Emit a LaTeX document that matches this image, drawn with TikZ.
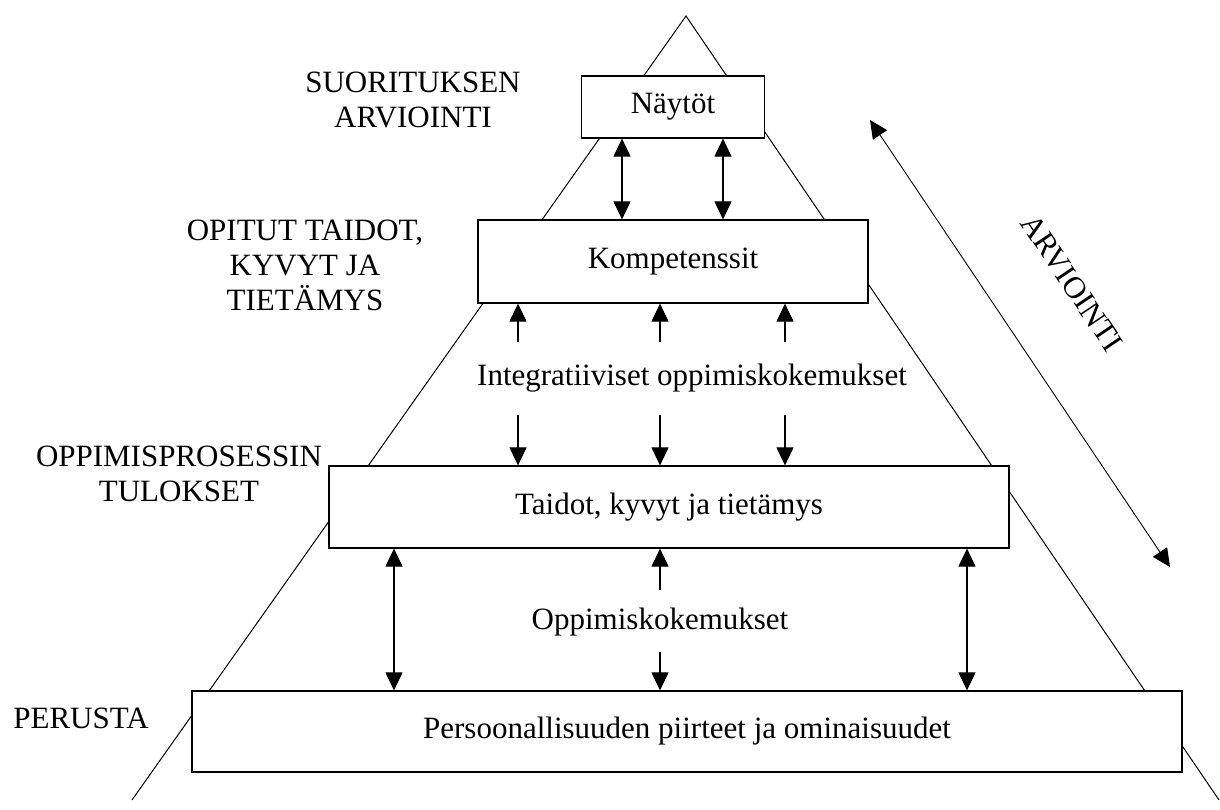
\documentclass[tikz,border=0pt]{standalone}
\usepackage{fontspec}
\setmainfont{Liberation Serif}
\usetikzlibrary{arrows.meta}
\begin{document}
\begin{tikzpicture}[x=1pt,y=-1pt,
  box/.style={draw, fill=white, line width=1.2pt, inner sep=0pt, font=\fontsize{31}{35}\selectfont},
  lbl/.style={align=center, inner sep=0pt, font=\fontsize{31}{35}\selectfont},
  txt/.style={inner sep=0pt, font=\fontsize{31}{35}\selectfont},
  tip/.style={line width=1.1pt, arrows={-Triangle[width=17pt,length=18pt]}},
  dtip/.style={line width=1.1pt, arrows={Triangle[width=17pt,length=18pt]-Triangle[width=17pt,length=18pt]}},
  tri/.style={line width=1pt}]
\useasboundingbox (0,0) rectangle (1220,810);
% pyramid
\coordinate (apex) at (686,16);
\coordinate (bl) at (132,800);
\coordinate (br) at (1219,800);
\draw[tri] (bl) -- (apex) -- (br);
% boxes
\node[box, minimum width=183pt, minimum height=62pt] (naytot) at (673,107) {Näytöt};
\node[box, minimum width=390pt, minimum height=83pt] (komp) at (673,261.5) {Kompetenssit};
\node[box, minimum width=680pt, minimum height=82pt] (taidot) at (669,507) {Taidot, kyvyt ja tietämys};
\node[box, minimum width=990pt, minimum height=81pt] (pers) at (687,731.5) {Persoonallisuuden piirteet ja ominaisuudet};
% middle texts
\node[txt] (integ) at (692,378) {Integratiiviset oppimiskokemukset};
\node[txt] (oppk) at (660,622) {Oppimiskokemukset};
% left labels
\node[lbl] (l1) at (413,100) {SUORITUKSEN\\ARVIOINTI};
\node[lbl] (l2) at (305,265) {OPITUT TAIDOT,\\KYVYT JA\\TIETÄMYS};
\node[lbl] (l3) at (179,474) {OPPIMISPROSESSIN\\TULOKSET};
\node[lbl] (l4) at (81,718) {PERUSTA};
% arrows Naytot - Kompetenssit
\coordinate (a1) at (622,0);
\coordinate (a2) at (723,0);
\draw[dtip] (naytot.south -| a1) -- (komp.north -| a1);
\draw[dtip] (naytot.south -| a2) -- (komp.north -| a2);
% arrows around integrative
\coordinate (u1) at (518,342);
\coordinate (u2) at (660,342);
\coordinate (u3) at (785,342);
\coordinate (d1) at (518,415);
\coordinate (d2) at (660,415);
\coordinate (d3) at (785,415);
\draw[tip] (u1) -- (komp.south -| u1);
\draw[tip] (u2) -- (komp.south -| u2);
\draw[tip] (u3) -- (komp.south -| u3);
\draw[tip] (d1) -- (taidot.north -| d1);
\draw[tip] (d2) -- (taidot.north -| d2);
\draw[tip] (d3) -- (taidot.north -| d3);
% arrows Taidot - Persoonallisuus
\coordinate (b1) at (394,0);
\coordinate (b2) at (967,0);
\draw[dtip] (taidot.south -| b1) -- (pers.north -| b1);
\draw[dtip] (taidot.south -| b2) -- (pers.north -| b2);
\coordinate (m1) at (660,590);
\coordinate (m2) at (660,652);
\draw[tip] (m1) -- (taidot.south -| m1);
\draw[tip] (m2) -- (pers.north -| m2);
% ARVIOINTI arrow
\coordinate (ev1) at (870,120);
\coordinate (ev2) at (1170,567);
\draw[dtip, line width=0.9pt] (ev1) -- (ev2);
\node[txt, rotate=-56] (evl) at (1072,283) {ARVIOINTI};
\end{tikzpicture}
\end{document}
